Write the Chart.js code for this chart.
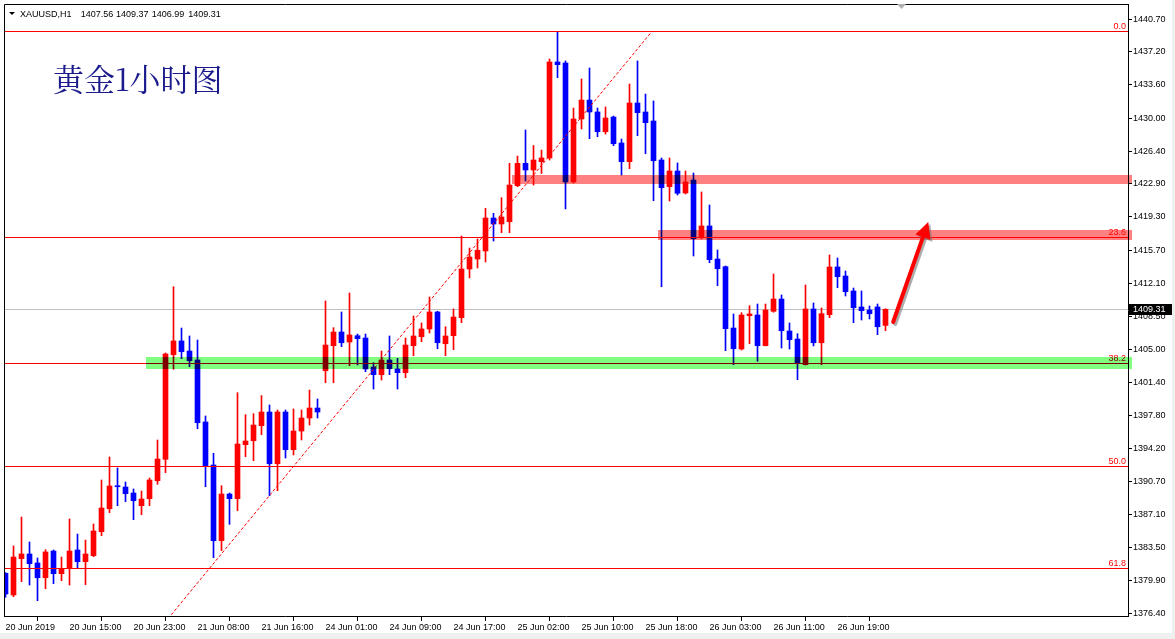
<!DOCTYPE html>
<html><head><meta charset="utf-8">
<script src="https://cdn.jsdelivr.net/npm/chart.js@4/dist/chart.umd.min.js"></script>
<style>
html,body{margin:0;padding:0;background:#fff;overflow:hidden}
canvas{display:block}
</style></head><body>
<canvas id="c" width="1175" height="639"></canvas>
<script>
// ---------- data ----------
const symbolLabel = "XAUUSD,H1";
const chartTitle = "黄金1小时图";

const opens = [1380.73,1378.38,1382.31,1382.82,1381.85,1380.25,1383.14,1380.69,1381.30,1383.25,
1381.99,1382.64,1385.23,1387.72,1390.18,1390.07,1389.42,1388.05,1388.81,1390.75,
1393.07,1404.39,1405.88,1404.79,1403.82,1397.11,1392.45,1384.26,1389.31,1388.81,
1394.65,1395.08,1396.71,1398.19,1392.59,1398.19,1394.11,1396.13,1397.54,1398.62,
1402.66,1405.37,1406.85,1405.77,1406.45,1406.20,1403.06,1402.23,1403.82,1402.85,
1402.45,1405.37,1406.34,1407.18,1409.02,1405.58,1406.45,1408.40,1413.67,1414.75,
1415.62,1419.19,1418.54,1418.79,1422.69,1425.11,1424.39,1425.29,1425.69,1436.08,
1435.97,1423.09,1429.91,1431.96,1430.67,1428.53,1430.12,1427.31,1425.29,1431.64,
1430.67,1429.69,1425.47,1422.58,1424.28,1421.90,1423.30,1417.06,1418.33,1414.75,
1413.92,1407.28,1405.01,1408.62,1408.69,1405.37,1409.09,1410.42,1406.96,1406.09,
1403.31,1409.34,1405.69,1408.72,1413.89,1412.91,1411.29,1409.56,1409.23,1409.56,
1407.56];
const highs = [1380.80,1383.69,1386.82,1384.12,1382.39,1383.29,1383.25,1382.49,1386.61,1384.98,
1384.33,1386.07,1390.83,1393.32,1392.13,1390.61,1389.86,1389.64,1391.05,1395.16,
1404.58,1411.75,1407.28,1406.42,1405.98,1397.76,1393.72,1390.21,1389.42,1400.28,
1397.90,1398.01,1399.96,1398.95,1398.41,1398.41,1398.52,1398.41,1400.57,1399.60,
1410.21,1407.32,1409.02,1411.07,1406.63,1406.63,1403.53,1404.79,1406.42,1404.00,
1406.20,1408.58,1407.83,1410.64,1409.10,1407.42,1409.34,1417.24,1415.94,1416.92,
1420.24,1419.70,1421.39,1425.11,1425.90,1428.72,1427.04,1426.55,1436.40,1439.40,
1436.19,1431.10,1434.24,1435.43,1431.10,1431.21,1430.23,1427.74,1433.70,1436.19,
1432.61,1431.86,1425.69,1425.69,1425.15,1424.28,1424.06,1422.01,1420.60,1415.73,
1414.00,1408.80,1408.94,1409.70,1409.88,1409.88,1413.13,1410.86,1407.83,1406.67,
1411.94,1409.99,1409.45,1415.19,1414.86,1413.45,1411.61,1411.29,1409.67,1409.88,
1409.37];
const lows = [1378.13,1378.20,1379.82,1379.46,1377.76,1379.06,1379.60,1379.93,1379.46,1381.34,
1379.50,1382.53,1384.80,1387.29,1388.05,1388.48,1386.53,1387.07,1388.05,1390.36,
1391.62,1402.81,1403.96,1403.09,1396.38,1390.10,1382.42,1383.18,1386.03,1387.51,
1393.35,1392.92,1395.73,1389.13,1389.67,1393.21,1393.54,1395.16,1396.78,1397.54,
1401.36,1401.36,1405.26,1403.20,1403.28,1402.55,1400.68,1401.65,1402.23,1400.68,
1401.90,1404.29,1405.80,1406.74,1405.04,1404.29,1404.93,1407.86,1412.70,1413.78,
1414.43,1416.70,1417.60,1417.60,1422.58,1423.20,1422.76,1424.01,1425.47,1434.38,
1420.17,1422.98,1428.83,1427.78,1427.99,1428.28,1427.02,1423.85,1424.53,1428.10,
1426.15,1421.06,1411.75,1421.03,1421.68,1421.79,1415.08,1416.92,1414.35,1411.86,
1404.83,1403.31,1404.90,1405.58,1403.68,1405.34,1408.99,1405.12,1405.01,1401.69,
1403.28,1405.34,1403.31,1408.40,1411.65,1410.75,1407.86,1408.15,1408.26,1406.56,
1406.99];
const closes = [1378.49,1382.49,1382.82,1381.77,1380.25,1383.04,1380.69,1381.27,1383.14,1381.99,
1382.82,1385.31,1387.80,1390.18,1390.10,1389.35,1388.59,1388.77,1390.83,1393.10,
1404.47,1405.88,1404.72,1403.74,1397.03,1392.27,1384.26,1389.31,1388.81,1394.73,
1395.05,1396.78,1398.19,1392.59,1398.19,1394.11,1396.13,1397.54,1398.62,1398.19,
1405.44,1406.85,1405.69,1406.53,1406.13,1402.85,1402.23,1403.82,1402.88,1402.45,
1405.44,1406.42,1407.18,1409.02,1405.69,1406.42,1408.47,1413.67,1414.97,1415.70,
1419.19,1418.54,1419.30,1422.76,1425.11,1424.39,1425.47,1425.69,1436.08,1435.79,
1423.09,1429.91,1431.96,1430.67,1428.53,1430.02,1427.23,1425.29,1431.64,1430.59,
1429.51,1425.39,1422.47,1424.28,1421.87,1423.09,1416.95,1418.33,1414.68,1413.70,
1407.21,1405.04,1408.69,1408.80,1405.37,1409.23,1410.42,1406.99,1406.02,1403.46,
1409.34,1405.69,1408.83,1413.89,1412.84,1411.21,1409.48,1409.16,1408.83,1407.42,
1409.31];

const timeTickIndex = [0,8,16,24,32,40,48,56,64,72,80,88,96,104];
const timeTickLabels = ["20 Jun 2019","20 Jun 15:00","20 Jun 23:00","21 Jun 08:00","21 Jun 16:00",
  "24 Jun 01:00","24 Jun 09:00","24 Jun 17:00","25 Jun 02:00","25 Jun 10:00","25 Jun 18:00",
  "26 Jun 03:00","26 Jun 11:00","26 Jun 19:00"];
const priceTicks = [1376.40,1379.90,1383.50,1387.10,1390.70,1394.20,1397.80,1401.40,1405.00,
  1408.50,1412.10,1415.70,1419.30,1422.90,1426.40,1430.00,1433.60,1437.20,1440.70];

const fibLabels = ["0.0","23.6","38.2","50.0","61.8"];
const fibPrices = [1439.43,1417.17,1403.46,1392.38,1381.34];

// zones: [from candle index, price low, price high]
const zoneStart = [17.6, 63.3, 81.5];
const zoneLow   = [1402.84, 1422.87, 1416.81];
const zoneHigh  = [1404.11, 1423.85, 1417.89];
const zoneColor = ["#80ff80", "#ff8080", "#ff8080"];

// dotted trend line: [index, price] endpoints
const trendX = [10, 80.84];
const trendY = [1364.97, 1439.43];

// arrow: tail -> tip
const arrowX = [110.96, 115.34];
const arrowY = [1407.93, 1418.76];

// ---------- chart ----------
const UP = '#ff0000', DN = '#0000ff';
const idx = opens.map((_, i) => i);
const cols = idx.map(i => closes[i] >= opens[i] ? UP : DN);
const FONT = "'Liberation Sans', Arial, sans-serif";

const overlay = {
  id: 'overlay',
  beforeDraw(chart) {
    const c = chart.ctx;
    c.save();
    c.fillStyle = '#ffffff';
    c.fillRect(0, 0, 1175, 639);
    c.fillStyle = '#f0f0f0';
    c.fillRect(1172, 0, 3, 639);
    c.fillRect(0, 633, 1175, 6);
    c.restore();
  },
  beforeDatasetsDraw(chart) {
    const c = chart.ctx, a = chart.chartArea, ys = chart.scales.y;
    const last = closes[closes.length - 1];
    const y = Math.round(ys.getPixelForValue(last)) + 0.5;
    c.save();
    c.strokeStyle = '#c0c0c0'; c.lineWidth = 1;
    c.beginPath(); c.moveTo(a.left, y); c.lineTo(a.right, y); c.stroke();
    c.restore();
  },
  afterDatasetsDraw(chart) {
    const c = chart.ctx, a = chart.chartArea, xs = chart.scales.x, ys = chart.scales.y;
    c.save();
    c.beginPath(); c.rect(a.left, a.top, a.right - a.left, a.bottom - a.top); c.clip();
    // fib lines
    c.strokeStyle = '#ff0000'; c.lineWidth = 1;
    c.font = '9px ' + FONT; c.fillStyle = '#ff0000'; c.textAlign = 'right'; c.textBaseline = 'alphabetic';
    fibPrices.forEach((p, k) => {
      const y = Math.round(ys.getPixelForValue(p)) + 0.5;
      c.beginPath(); c.moveTo(a.left, y); c.lineTo(a.right, y); c.stroke();
      c.fillText(fibLabels[k], a.right - 2, y - 3);
    });
    // dotted trend
    c.setLineDash([3, 2]);
    c.beginPath();
    c.moveTo(xs.getPixelForValue(trendX[0]), ys.getPixelForValue(trendY[0]));
    c.lineTo(xs.getPixelForValue(trendX[1]), ys.getPixelForValue(trendY[1]));
    c.stroke();
    c.setLineDash([]);
    c.restore();

    // zones (multiply blend)
    c.save();
    c.globalCompositeOperation = 'multiply';
    zoneStart.forEach((s, k) => {
      const x0 = Math.round(xs.getPixelForValue(s));
      const y0 = Math.round(ys.getPixelForValue(zoneHigh[k]));
      const y1 = Math.round(ys.getPixelForValue(zoneLow[k]));
      c.fillStyle = zoneColor[k];
      c.fillRect(x0, y0, a.right + 4 - x0, y1 - y0);
    });
    c.restore();

    // arrow
    const x0 = xs.getPixelForValue(arrowX[0]), y0 = ys.getPixelForValue(arrowY[0]);
    const x1 = xs.getPixelForValue(arrowX[1]), y1 = ys.getPixelForValue(arrowY[1]);
    const ang = Math.atan2(y1 - y0, x1 - x0);
    const drawArrow = (dx, dy, col) => {
      c.save();
      c.translate(dx, dy);
      c.strokeStyle = col; c.fillStyle = col; c.lineWidth = 4; c.lineCap = 'round';
      const hl = 16, hw = 8;
      const bx = x1 - hl * Math.cos(ang), by = y1 - hl * Math.sin(ang);
      c.beginPath(); c.moveTo(x0, y0); c.lineTo(bx, by); c.stroke();
      c.beginPath();
      c.moveTo(x1, y1);
      c.lineTo(bx + hw * Math.sin(ang), by - hw * Math.cos(ang));
      c.lineTo(bx - hw * Math.sin(ang), by + hw * Math.cos(ang));
      c.closePath(); c.fill();
      c.restore();
    };
    drawArrow(2, 2, 'rgba(120,120,120,0.6)');
    drawArrow(0, 0, '#ff0000');

    // frame
    c.save();
    c.strokeStyle = '#000'; c.lineWidth = 1;
    c.beginPath();
    c.moveTo(a.left + 0.5, a.bottom); c.lineTo(a.left + 0.5, a.top + 0.5); c.lineTo(a.right, a.top + 0.5);
    c.stroke();
    c.restore();

    // title
    c.save();
    c.font = "31px 'Noto Serif CJK SC', 'Noto Sans CJK SC', serif";
    c.fillStyle = '#1a1a8c'; c.textAlign = 'left'; c.textBaseline = 'middle';
    c.fillText(chartTitle, 53, 79);
    c.restore();

    // header
    c.save();
    c.fillStyle = '#000';
    c.beginPath(); c.moveTo(9, 12); c.lineTo(15, 12); c.lineTo(12, 15); c.closePath(); c.fill();
    c.font = '9px ' + FONT; c.textBaseline = 'alphabetic'; c.textAlign = 'left';
    const n = closes.length - 1;
    c.fillText(symbolLabel, 20, 17);
    const vals = [opens[n], highs[n], lows[n], closes[n]];
    const hx = [80.7, 116, 151.7, 188.3];
    vals.forEach((v, k) => c.fillText(v.toFixed(2), hx[k], 17));
    c.restore();

    // price box
    c.save();
    const py = Math.round(ys.getPixelForValue(closes[n]));
    c.fillStyle = '#000';
    c.fillRect(a.right + 1, py - 5, 43, 11);
    c.fillStyle = '#fff'; c.font = '9px ' + FONT; c.textBaseline = 'middle'; c.textAlign = 'left';
    c.fillText(closes[n].toFixed(2), a.right + 5, py + 0.5);
    c.restore();

    // chart shift marker
    c.save();
    c.fillStyle = '#b0b0b0';
    c.beginPath(); c.moveTo(897, 4); c.lineTo(906, 4); c.lineTo(901.5, 9); c.closePath(); c.fill();
    c.restore();
  }
};

new Chart(document.getElementById('c'), {
  type: 'bar',
  data: {
    datasets: [
      { label: 'body', data: idx.map(i => ({ x: i, y: [opens[i], closes[i]] })),
        backgroundColor: cols, borderWidth: 0, barThickness: 5, grouped: false, order: 0, minBarLength: 1 },
      { label: 'wick', data: idx.map(i => ({ x: i, y: [lows[i], highs[i]] })),
        backgroundColor: cols, borderWidth: 0, barThickness: 1, grouped: false, order: 1 }
    ]
  },
  options: {
    responsive: false, animation: false, devicePixelRatio: 1,
    plugins: { legend: { display: false }, tooltip: { enabled: false } },
    layout: { padding: { left: 4, top: 4, right: 0, bottom: 0 } },
    scales: {
      x: {
        type: 'linear', offset: false, min: -0.1875, max: 140.3125,
        afterBuildTicks: s => { s.ticks = timeTickIndex.map(v => ({ value: v })); },
        afterFit: s => { s.height = 23; s.paddingLeft = 0; s.paddingRight = 0; },
        ticks: {
          autoSkip: false, maxRotation: 0, minRotation: 0, align: 'start', padding: 1,
          color: '#000', font: { family: FONT, size: 9 },
          callback: v => { const k = timeTickIndex.indexOf(v); return k >= 0 ? timeTickLabels[k] : ''; }
        },
        grid: { drawOnChartArea: false, drawTicks: true, tickLength: 5, color: '#000' },
        border: { display: true, color: '#000' }
      },
      y: {
        position: 'right', min: 1376.107, max: 1442.357,
        afterBuildTicks: s => { s.ticks = priceTicks.map(v => ({ value: v })); },
        afterFit: s => { s.width = 47; s.paddingTop = 0; s.paddingBottom = 0; },
        ticks: {
          autoSkip: false, padding: 1, color: '#000', font: { family: FONT, size: 9 },
          callback: v => Number(v).toFixed(2)
        },
        grid: { drawOnChartArea: false, drawTicks: true, tickLength: 4, color: '#000' },
        border: { display: true, color: '#000' }
      }
    }
  },
  plugins: [overlay]
});
</script>
</body></html>
